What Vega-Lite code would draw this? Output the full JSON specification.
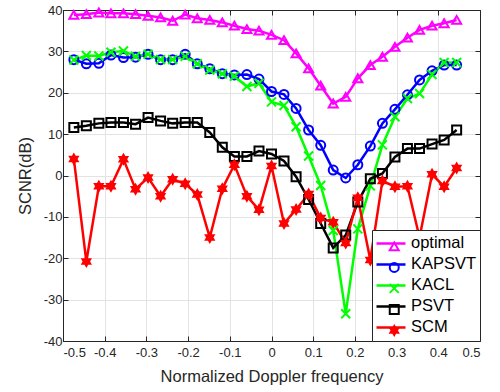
{
  "$schema": "https://vega.github.io/schema/vega-lite/v6.json",
  "width": 417,
  "height": 331,
  "autosize": "none",
  "padding": {"left": 63, "top": 10, "right": 20, "bottom": 51},
  "config": {
    "font": "Liberation Sans",
    "view": {"stroke": "#262626", "strokeWidth": 1},
    "axis": {
      "labelFont": "Liberation Sans",
      "labelFontSize": 13,
      "labelColor": "#262626",
      "titleFont": "Liberation Sans",
      "titleFontSize": 16.5,
      "titleFontWeight": "normal",
      "titleColor": "#262626",
      "domainColor": "#262626",
      "tickColor": "#262626",
      "tickSize": -5,
      "gridColor": "#e3e3e3",
      "gridOpacity": 1
    }
  },
  "data": {"values": [
    {"f": -0.474, "series": "optimal", "v": 38.8},
    {"f": -0.444, "series": "optimal", "v": 39.0},
    {"f": -0.414, "series": "optimal", "v": 39.4},
    {"f": -0.385, "series": "optimal", "v": 39.2},
    {"f": -0.355, "series": "optimal", "v": 39.2},
    {"f": -0.326, "series": "optimal", "v": 39.0},
    {"f": -0.296, "series": "optimal", "v": 38.6},
    {"f": -0.266, "series": "optimal", "v": 38.2},
    {"f": -0.237, "series": "optimal", "v": 37.4},
    {"f": -0.207, "series": "optimal", "v": 38.9},
    {"f": -0.178, "series": "optimal", "v": 38.0},
    {"f": -0.148, "series": "optimal", "v": 37.6},
    {"f": -0.118, "series": "optimal", "v": 37.0},
    {"f": -0.089, "series": "optimal", "v": 36.2},
    {"f": -0.059, "series": "optimal", "v": 35.4},
    {"f": -0.030, "series": "optimal", "v": 35.0},
    {"f": 0.000, "series": "optimal", "v": 34.0},
    {"f": 0.030, "series": "optimal", "v": 32.7},
    {"f": 0.059, "series": "optimal", "v": 29.5},
    {"f": 0.089, "series": "optimal", "v": 25.9},
    {"f": 0.118, "series": "optimal", "v": 21.7},
    {"f": 0.148, "series": "optimal", "v": 17.4},
    {"f": 0.178, "series": "optimal", "v": 19.0},
    {"f": 0.207, "series": "optimal", "v": 23.5},
    {"f": 0.237, "series": "optimal", "v": 26.7},
    {"f": 0.266, "series": "optimal", "v": 28.7},
    {"f": 0.296, "series": "optimal", "v": 31.1},
    {"f": 0.326, "series": "optimal", "v": 33.3},
    {"f": 0.355, "series": "optimal", "v": 35.2},
    {"f": 0.385, "series": "optimal", "v": 36.2},
    {"f": 0.414, "series": "optimal", "v": 36.8},
    {"f": 0.444, "series": "optimal", "v": 37.6},

    {"f": -0.474, "series": "KAPSVT", "v": 28.0},
    {"f": -0.444, "series": "KAPSVT", "v": 27.0},
    {"f": -0.414, "series": "KAPSVT", "v": 27.1},
    {"f": -0.385, "series": "KAPSVT", "v": 29.1},
    {"f": -0.355, "series": "KAPSVT", "v": 28.5},
    {"f": -0.326, "series": "KAPSVT", "v": 28.6},
    {"f": -0.296, "series": "KAPSVT", "v": 29.3},
    {"f": -0.266, "series": "KAPSVT", "v": 28.0},
    {"f": -0.237, "series": "KAPSVT", "v": 28.0},
    {"f": -0.207, "series": "KAPSVT", "v": 29.3},
    {"f": -0.178, "series": "KAPSVT", "v": 27.0},
    {"f": -0.148, "series": "KAPSVT", "v": 25.8},
    {"f": -0.118, "series": "KAPSVT", "v": 24.6},
    {"f": -0.089, "series": "KAPSVT", "v": 24.3},
    {"f": -0.059, "series": "KAPSVT", "v": 24.4},
    {"f": -0.030, "series": "KAPSVT", "v": 23.3},
    {"f": 0.000, "series": "KAPSVT", "v": 20.3},
    {"f": 0.030, "series": "KAPSVT", "v": 19.6},
    {"f": 0.059, "series": "KAPSVT", "v": 16.2},
    {"f": 0.089, "series": "KAPSVT", "v": 11.0},
    {"f": 0.118, "series": "KAPSVT", "v": 7.3},
    {"f": 0.148, "series": "KAPSVT", "v": 1.3},
    {"f": 0.178, "series": "KAPSVT", "v": -0.6},
    {"f": 0.207, "series": "KAPSVT", "v": 2.6},
    {"f": 0.237, "series": "KAPSVT", "v": 7.1},
    {"f": 0.266, "series": "KAPSVT", "v": 12.6},
    {"f": 0.296, "series": "KAPSVT", "v": 16.0},
    {"f": 0.326, "series": "KAPSVT", "v": 19.5},
    {"f": 0.355, "series": "KAPSVT", "v": 23.1},
    {"f": 0.385, "series": "KAPSVT", "v": 25.3},
    {"f": 0.414, "series": "KAPSVT", "v": 26.7},
    {"f": 0.444, "series": "KAPSVT", "v": 26.7},

    {"f": -0.474, "series": "KACL", "v": 27.9},
    {"f": -0.444, "series": "KACL", "v": 29.0},
    {"f": -0.414, "series": "KACL", "v": 28.9},
    {"f": -0.385, "series": "KACL", "v": 29.8},
    {"f": -0.355, "series": "KACL", "v": 30.1},
    {"f": -0.326, "series": "KACL", "v": 28.8},
    {"f": -0.296, "series": "KACL", "v": 29.3},
    {"f": -0.266, "series": "KACL", "v": 28.0},
    {"f": -0.237, "series": "KACL", "v": 28.0},
    {"f": -0.207, "series": "KACL", "v": 28.8},
    {"f": -0.178, "series": "KACL", "v": 27.0},
    {"f": -0.148, "series": "KACL", "v": 25.5},
    {"f": -0.118, "series": "KACL", "v": 24.6},
    {"f": -0.089, "series": "KACL", "v": 24.0},
    {"f": -0.059, "series": "KACL", "v": 21.5},
    {"f": -0.030, "series": "KACL", "v": 22.3},
    {"f": 0.000, "series": "KACL", "v": 17.8},
    {"f": 0.030, "series": "KACL", "v": 16.9},
    {"f": 0.059, "series": "KACL", "v": 11.8},
    {"f": 0.089, "series": "KACL", "v": 4.7},
    {"f": 0.118, "series": "KACL", "v": -2.4},
    {"f": 0.148, "series": "KACL", "v": -13.3},
    {"f": 0.178, "series": "KACL", "v": -33.4},
    {"f": 0.207, "series": "KACL", "v": -12.9},
    {"f": 0.237, "series": "KACL", "v": -2.5},
    {"f": 0.266, "series": "KACL", "v": 7.4},
    {"f": 0.296, "series": "KACL", "v": 14.2},
    {"f": 0.326, "series": "KACL", "v": 18.6},
    {"f": 0.355, "series": "KACL", "v": 19.8},
    {"f": 0.385, "series": "KACL", "v": 24.4},
    {"f": 0.414, "series": "KACL", "v": 27.3},
    {"f": 0.444, "series": "KACL", "v": 27.3},

    {"f": -0.474, "series": "PSVT", "v": 11.6},
    {"f": -0.444, "series": "PSVT", "v": 12.0},
    {"f": -0.414, "series": "PSVT", "v": 12.6},
    {"f": -0.385, "series": "PSVT", "v": 12.8},
    {"f": -0.355, "series": "PSVT", "v": 12.8},
    {"f": -0.326, "series": "PSVT", "v": 12.4},
    {"f": -0.296, "series": "PSVT", "v": 14.0},
    {"f": -0.266, "series": "PSVT", "v": 13.2},
    {"f": -0.237, "series": "PSVT", "v": 12.6},
    {"f": -0.207, "series": "PSVT", "v": 12.8},
    {"f": -0.178, "series": "PSVT", "v": 12.8},
    {"f": -0.148, "series": "PSVT", "v": 10.4},
    {"f": -0.118, "series": "PSVT", "v": 6.8},
    {"f": -0.089, "series": "PSVT", "v": 4.6},
    {"f": -0.059, "series": "PSVT", "v": 4.6},
    {"f": -0.030, "series": "PSVT", "v": 5.9},
    {"f": 0.000, "series": "PSVT", "v": 5.2},
    {"f": 0.030, "series": "PSVT", "v": 3.5},
    {"f": 0.059, "series": "PSVT", "v": -0.3},
    {"f": 0.089, "series": "PSVT", "v": -5.8},
    {"f": 0.118, "series": "PSVT", "v": -11.6},
    {"f": 0.148, "series": "PSVT", "v": -17.5},
    {"f": 0.178, "series": "PSVT", "v": -14.4},
    {"f": 0.207, "series": "PSVT", "v": -6.4},
    {"f": 0.237, "series": "PSVT", "v": -0.8},
    {"f": 0.266, "series": "PSVT", "v": 0.5},
    {"f": 0.296, "series": "PSVT", "v": 4.5},
    {"f": 0.326, "series": "PSVT", "v": 6.5},
    {"f": 0.355, "series": "PSVT", "v": 6.5},
    {"f": 0.385, "series": "PSVT", "v": 7.6},
    {"f": 0.414, "series": "PSVT", "v": 8.6},
    {"f": 0.444, "series": "PSVT", "v": 11.0},

    {"f": -0.474, "series": "SCM", "v": 4.0},
    {"f": -0.444, "series": "SCM", "v": -20.8},
    {"f": -0.414, "series": "SCM", "v": -2.6},
    {"f": -0.385, "series": "SCM", "v": -2.6},
    {"f": -0.355, "series": "SCM", "v": 3.9},
    {"f": -0.326, "series": "SCM", "v": -3.3},
    {"f": -0.296, "series": "SCM", "v": -0.5},
    {"f": -0.266, "series": "SCM", "v": -5.0},
    {"f": -0.237, "series": "SCM", "v": -0.9},
    {"f": -0.207, "series": "SCM", "v": -2.0},
    {"f": -0.178, "series": "SCM", "v": -4.6},
    {"f": -0.148, "series": "SCM", "v": -15.0},
    {"f": -0.118, "series": "SCM", "v": -3.2},
    {"f": -0.089, "series": "SCM", "v": 2.6},
    {"f": -0.059, "series": "SCM", "v": -5.0},
    {"f": -0.030, "series": "SCM", "v": -8.3},
    {"f": 0.000, "series": "SCM", "v": 2.3},
    {"f": 0.030, "series": "SCM", "v": -11.6},
    {"f": 0.059, "series": "SCM", "v": -8.2},
    {"f": 0.089, "series": "SCM", "v": -4.5},
    {"f": 0.118, "series": "SCM", "v": -10.3},
    {"f": 0.148, "series": "SCM", "v": -11.3},
    {"f": 0.178, "series": "SCM", "v": -16.3},
    {"f": 0.207, "series": "SCM", "v": -5.4},
    {"f": 0.237, "series": "SCM", "v": -20.4},
    {"f": 0.266, "series": "SCM", "v": -1.3},
    {"f": 0.296, "series": "SCM", "v": -2.7},
    {"f": 0.326, "series": "SCM", "v": -2.6},
    {"f": 0.355, "series": "SCM", "v": -15.0},
    {"f": 0.385, "series": "SCM", "v": 0.3},
    {"f": 0.414, "series": "SCM", "v": -2.7},
    {"f": 0.444, "series": "SCM", "v": 1.8}
  ]},
  "layer": [
    {
      "mark": {"type": "line", "strokeWidth": 2.5},
      "encoding": {
        "x": {
          "field": "f", "type": "quantitative",
          "scale": {"domain": [-0.5, 0.5], "nice": false, "zero": false},
          "axis": {
            "orient": "bottom",
            "title": "Normalized Doppler frequency",
            "values": [-0.5, -0.4, -0.3, -0.2, -0.1, 0, 0.1, 0.2, 0.3, 0.4, 0.5],
            "labelExpr": "replace(format(datum.value, '~g'), '\u2212', '-')",
            "grid": true,
            "labelPadding": 10,
            "titlePadding": 9
          }
        },
        "y": {
          "field": "v", "type": "quantitative",
          "scale": {"domain": [-40, 40], "nice": false, "zero": false},
          "axis": {
            "orient": "left",
            "title": "SCNR(dB)",
            "values": [-40, -30, -20, -10, 0, 10, 20, 30, 40],
            "labelExpr": "replace(format(datum.value, '~g'), '\u2212', '-')",
            "grid": true,
            "labelPadding": 6,
            "titlePadding": 10
          }
        },
        "color": {
          "field": "series", "type": "nominal",
          "sort": ["optimal", "KAPSVT", "KACL", "PSVT", "SCM"],
          "scale": {
            "range": ["#ff00ff", "#0000ff", "#00ff00", "#000000", "#ff0000"]
          },
          "legend": {
            "orient": "bottom-right",
            "offset": 0,
            "title": null,
            "symbolType": "stroke",
            "symbolSize": 841,
            "symbolStrokeWidth": 2.5,
            "labelFont": "Liberation Sans",
            "labelFontSize": 16.5,
            "labelColor": "#000000",
            "labelOffset": 4,
            "padding": 3,
            "rowPadding": 0,
            "clipHeight": 20.8,
            "strokeColor": "#262626",
            "fillColor": "#ffffff",
            "zindex": 1
          }
        }
      }
    },
    {
      "mark": {"type": "point", "filled": true, "size": 81, "strokeWidth": 2, "opacity": 1},
      "encoding": {
        "x": {
          "field": "f", "type": "quantitative",
          "axis": {
            "orient": "top", "title": null, "labels": false, "grid": false,
            "values": [-0.5, -0.4, -0.3, -0.2, -0.1, 0, 0.1, 0.2, 0.3, 0.4, 0.5]
          }
        },
        "y": {
          "field": "v", "type": "quantitative",
          "axis": {
            "orient": "right", "title": null, "labels": false, "grid": false,
            "values": [-40, -30, -20, -10, 0, 10, 20, 30, 40]
          }
        },
        "stroke": {
          "field": "series", "type": "nominal",
          "scale": {
            "domain": ["optimal", "KAPSVT", "KACL", "PSVT", "SCM"],
            "range": ["#ff00ff", "#0000ff", "#00ff00", "#000000", "#ff0000"]
          },
          "legend": {
            "orient": "none",
            "legendX": 320,
            "legendY": 223,
            "title": null,
            "symbolSize": 81,
            "symbolStrokeWidth": 2,
            "labelExpr": "''",
            "labelFont": "Liberation Sans",
            "labelFontSize": 16.5,
            "labelOffset": 4,
            "padding": 3,
            "rowPadding": 0,
            "clipHeight": 20.8,
            "zindex": 2
          }
        },
        "fill": {
          "field": "series", "type": "nominal",
          "scale": {
            "domain": ["optimal", "KAPSVT", "KACL", "PSVT", "SCM"],
            "range": ["transparent", "transparent", "transparent", "transparent", "#ff0000"]
          }
        },
        "shape": {
          "field": "series", "type": "nominal",
          "scale": {
            "domain": ["optimal", "KAPSVT", "KACL", "PSVT", "SCM"],
            "range": ["triangle-up", "circle", "M-1,-1L1,1M-1,1L1,-1", "square", "M0,-1L0.866,0.5L-0.866,0.5ZM0,1L-0.866,-0.5L0.866,-0.5Z"]
          }
        }
      }
    }
  ],
  "resolve": {"axis": {"x": "independent", "y": "independent"}}
}
